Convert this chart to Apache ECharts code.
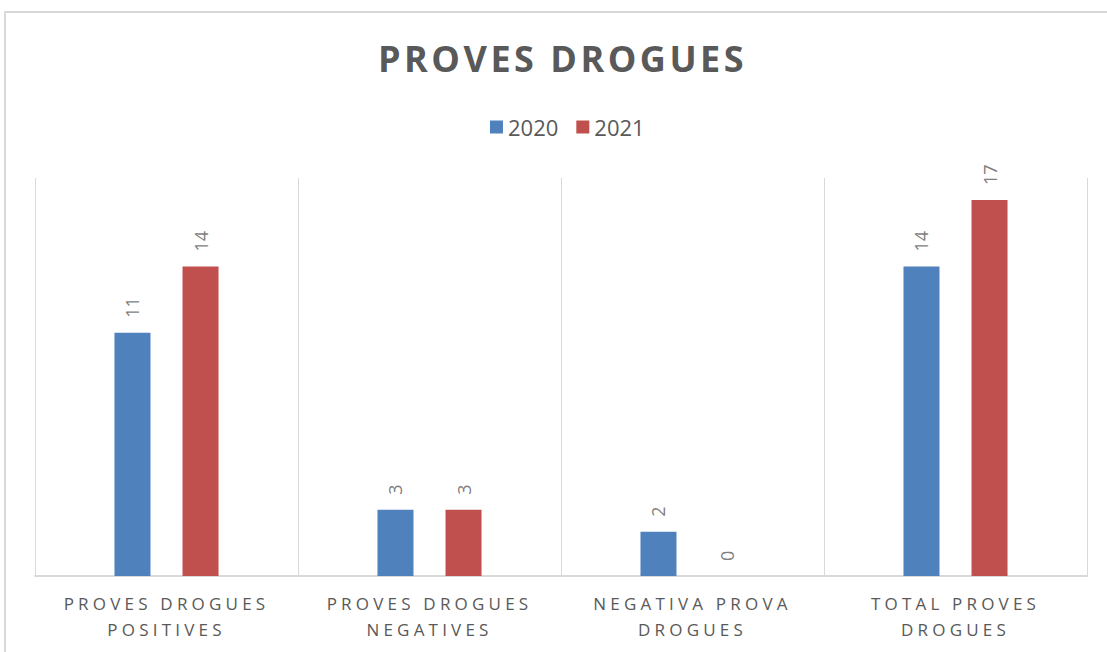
<!DOCTYPE html>
<html>
<head>
<meta charset="utf-8">
<script src="https://cdn.jsdelivr.net/npm/echarts@6/dist/echarts.min.js"></script>
<style>
  html, body { margin: 0; padding: 0; background: #fff; }
  #main { width: 1107px; height: 652px; }
  #main text[style*="36px"] { letter-spacing: 3.5px; }
  #main text[style*="17px"] { letter-spacing: 4.2px; }
</style>
</head>
<body>
<div id="main"></div>
<script>
const titleText = 'PROVES DROGUES';
const categories = [
  'PROVES DROGUES\nPOSITIVES',
  'PROVES DROGUES\nNEGATIVES',
  'NEGATIVA PROVA\nDROGUES',
  'TOTAL PROVES\nDROGUES'
];
const seriesNames = ['2020', '2021'];
const values2020 = [11, 3, 2, 14];
const values2021 = [14, 3, 0, 17];

const chart = echarts.init(document.getElementById('main'), null, { renderer: 'svg' });
const labelCfg = {
  show: true,
  position: 'top',
  rotate: 90,
  align: 'left',
  verticalAlign: 'middle',
  distance: 15,
  color: '#7f7f7f',
  fontSize: 18,
  fontFamily: 'Open Sans'
};
chart.setOption({
  animation: false,
  backgroundColor: '#ffffff',
  graphic: [{
    type: 'rect',
    shape: { x: 5, y: 12, width: 1200, height: 800 },
    style: { fill: 'none', stroke: '#d9d9d9', lineWidth: 2 },
    silent: true,
    z: -10
  }],
  title: {
    text: titleText,
    left: 373,
    top: 35,
    padding: 5,
    textStyle: { fontFamily: 'Open Sans', fontWeight: 'bold', fontSize: 36, color: '#595959' }
  },
  legend: {
    data: seriesNames,
    top: 111,
    left: 485,
    icon: 'rect',
    itemWidth: 13,
    itemHeight: 13,
    itemGap: 18,
    textStyle: { fontFamily: 'Open Sans', fontSize: 22, color: '#595959' }
  },
  grid: { left: 35, right: 20, top: 178, bottom: 76 },
  xAxis: {
    type: 'category',
    data: categories,
    axisLine: { show: true, lineStyle: { color: '#d9d9d9', width: 2 } },
    axisTick: { show: false },
    splitLine: { show: true, lineStyle: { color: '#d9d9d9', width: 1 } },
    axisLabel: {
      interval: 0,
      margin: 14,
      fontFamily: 'Open Sans',
      fontSize: 17,
      lineHeight: 26,
      color: '#595959'
    }
  },
  yAxis: {
    type: 'value',
    min: 0,
    max: 18,
    show: false,
    splitLine: { show: false }
  },
  series: [
    {
      name: seriesNames[0],
      type: 'bar',
      data: values2020,
      barWidth: 36,
      barGap: '89%',
      itemStyle: { color: '#4f81bd' },
      label: labelCfg
    },
    {
      name: seriesNames[1],
      type: 'bar',
      data: values2021,
      barWidth: 36,
      itemStyle: { color: '#c0504d' },
      label: labelCfg
    }
  ]
});
</script>
</body>
</html>
